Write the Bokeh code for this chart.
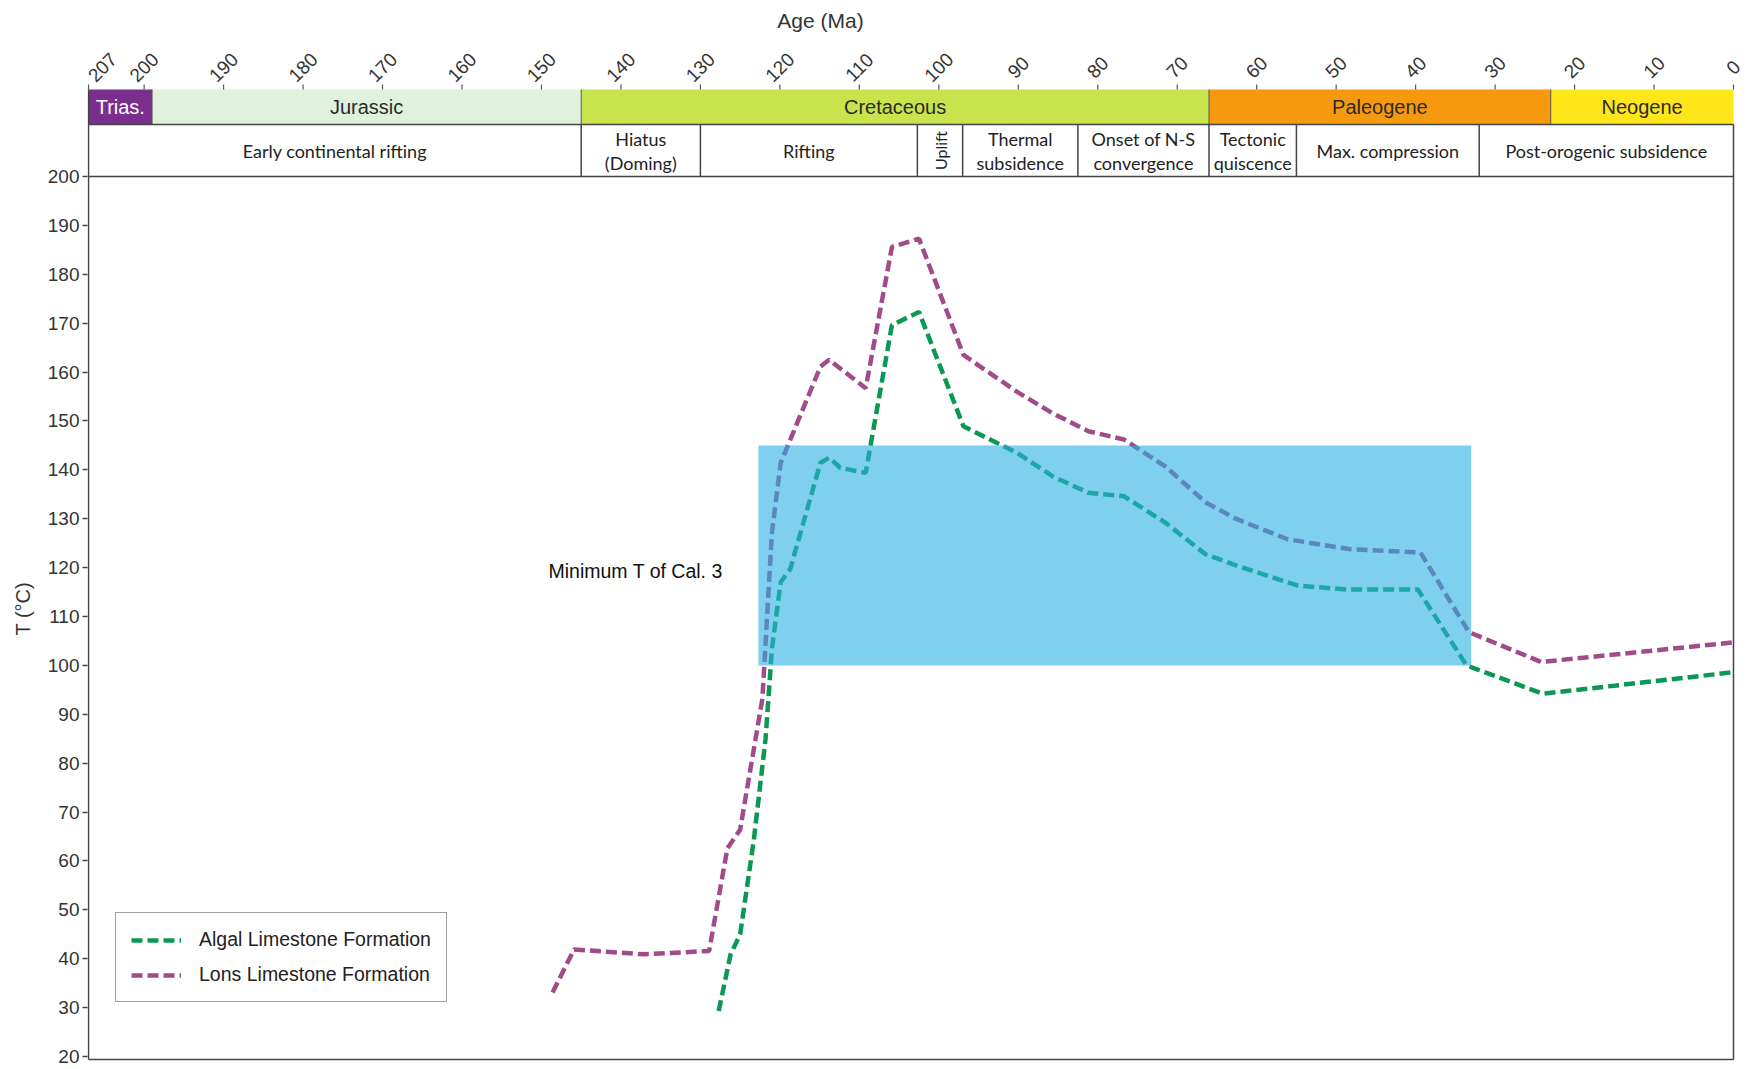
import math
from bokeh.plotting import figure
from bokeh.models import Range1d, FixedTicker, Legend, LegendItem, Title
from bokeh.core.properties import value
from bokeh.embed import file_html
from bokeh.resources import INLINE

# ---------------- data ----------------
lons_age = [148.6, 145.9, 137.1, 128.9, 126.6, 125.0, 122.2, 121.0, 119.9, 114.9, 113.8,
            109.2, 105.9, 102.5, 96.9, 90.2, 85.7, 81.2, 76.7, 71.5, 66.4, 62.5, 56.1,
            48.4, 39.4, 33.3, 24.2, 0.0]
lons_temp = [33.1, 41.9, 40.9, 41.6, 62.6, 66.4, 93.2, 127.2, 141.4, 161.1, 162.5,
             156.7, 185.6, 187.3, 163.5, 156.0, 151.6, 147.9, 146.2, 140.7, 133.3, 129.9, 125.8,
             123.8, 123.1, 106.8, 100.7, 104.7]

algal_age = [127.7, 126.2, 125.0, 123.3, 121.8, 121.0, 119.9, 118.7, 114.9, 113.8, 112.4,
             109.2, 105.9, 102.5, 96.9, 90.2, 85.7, 81.2, 76.7, 71.5, 66.4, 62.5, 54.8,
             48.4, 39.7, 33.6, 24.0, 0.0]
algal_temp = [29.3, 40.9, 45.0, 64.0, 85.0, 103.4, 117.0, 119.7, 141.4, 142.5, 140.4,
              139.4, 169.6, 172.3, 148.9, 143.5, 138.7, 135.3, 134.6, 129.2, 122.7, 120.4, 116.3,
              115.5, 115.5, 100.0, 94.2, 98.6]

cal3_age = [122.7, 33.0]     # age span of the calibration box (Ma)
cal3_temp = [100.0, 145.0]   # temperature span (°C)
cal3_label = "Minimum T of Cal. 3"

period_names = ["Trias.", "Jurassic", "Cretaceous", "Paleogene", "Neogene"]
period_start = [207, 199, 145, 66, 23]
period_end = [199, 145, 66, 23, 0]
period_colors = ["#7a2e8e", "#e0f2de", "#c8e34c", "#f7990e", "#ffe61a"]
period_text_colors = ["#ffffff", "#2b2b2b", "#2b2b2b", "#2b2b2b", "#2b2b2b"]

process_names = ["Early continental rifting", "Hiatus\n(Doming)", "Rifting", "Uplift",
                 "Thermal\nsubsidence", "Onset of N-S\nconvergence", "Tectonic\nquiscence",
                 "Max. compression", "Post-orogenic subsidence"]
process_start = [207, 145, 130, 102.7, 97, 82.5, 66, 55, 32]
process_end = [145, 130, 102.7, 97, 82.5, 66, 55, 32, 0]

age_ticks = [207, 200, 190, 180, 170, 160, 150, 140, 130, 120, 110, 100,
             90, 80, 70, 60, 50, 40, 30, 20, 10, 0]
temp_ticks = [20, 30, 40, 50, 60, 70, 80, 90, 100, 110, 120, 130, 140, 150,
              160, 170, 180, 190, 200]

# ---------------- layout (page pixels) ----------------
W, H = 1748, 1068
ML, MT, MB = 87, 0, 4
FRAME_W, FRAME_H = W - ML, H - MT - MB
PX_MA = (1733 - 88) / 207.0
X_START = 207 + 1.0 / PX_MA
X_END = X_START - FRAME_W / PX_MA
PX_T = (1056 - 176) / 180.0
Y_TOP = 200 + (176 - MT) / PX_T
Y_BOT = Y_TOP - FRAME_H / PX_T


def ty(page_y):
    return Y_TOP - (page_y - MT) / PX_T


def tx(page_x):
    return X_START - (page_x - ML) / PX_MA


GREEN = "#0b9850"
PURPLE = "#a24b89"
LINE = "#444444"
ARIAL = value("Liberation Sans")
CAL = value("Lato")

p = figure(width=W, height=H, output_backend="svg", toolbar_location=None,
           x_range=Range1d(X_START, X_END), y_range=Range1d(Y_BOT, Y_TOP),
           x_axis_location=None, y_axis_location="left",
           min_border_left=ML, min_border_right=0, min_border_top=MT, min_border_bottom=MB)
p.title.visible = False
p.outline_line_color = None
p.xgrid.visible = False
p.ygrid.visible = False
p.background_fill_color = "white"
p.border_fill_color = "white"

ya = p.yaxis[0]
ya.ticker = FixedTicker(ticks=temp_ticks)
ya.bounds = (temp_ticks[0], temp_ticks[-1])
ya.axis_line_color = None
ya.major_tick_out = 5
ya.major_tick_in = 0
ya.major_tick_line_color = LINE
ya.major_tick_line_width = 1.3
ya.minor_tick_line_color = None
ya.major_label_standoff = 3
ya.major_label_text_font = "Liberation Sans"
ya.major_label_text_font_size = "19px"
ya.major_label_text_color = "#333333"

# y-axis title, positioned from the bottom of the frame
p.add_layout(Title(text="T (°C)", align="left", vertical_align="middle",
                   offset=(H - MB) - 608 - 27, standoff=20,
                   text_font="Liberation Sans", text_font_size="20px",
                   text_font_style="normal", text_color="#333333"), "left")

# ---- geologic time header ----
ROW1_TOP, ROW1_BOT, ROW2_BOT = ty(89), ty(124), temp_ticks[-1]
p.quad(left=period_start, right=period_end, bottom=ROW1_BOT, top=ROW1_TOP,
       fill_color=period_colors, line_color=None)
p.segment(x0=period_start[1:], x1=period_start[1:], y0=ROW1_BOT, y1=ROW1_TOP,
          line_color="#555555", line_width=1)
p.text(x=[(a + b) / 2 for a, b in zip(period_start, period_end)], y=ty(106.5),
       text=period_names, text_color=period_text_colors, text_font=ARIAL,
       text_font_size="20px", text_align="center", text_baseline="middle")

p.segment(x0=process_start[1:], x1=process_start[1:], y0=ROW2_BOT, y1=ROW1_BOT,
          line_color=LINE, line_width=1.5)
for name, a, b in zip(process_names, process_start, process_end):
    xc = (a + b) / 2
    if name == "Uplift":
        p.text(x=[xc], y=[ty(150)], text=[name], text_font=CAL, text_font_size="16px",
               text_color="#222222", angle=math.pi / 2, text_align="center",
               text_baseline="middle")
        continue
    lines = name.split("\n")
    ys = [ty(150)] if len(lines) == 1 else [ty(138), ty(162)]
    p.text(x=[xc] * len(lines), y=ys, text=lines, text_font=CAL, text_font_size="18px",
           text_color="#222222", text_align="center", text_baseline="middle")

# top age scale: tick marks + rotated labels + title
p.segment(x0=age_ticks, x1=age_ticks, y0=ty(84), y1=ROW1_TOP, line_color="#555555",
          line_width=1.2)
label_x = [min(t, tx(102)) for t in age_ticks]   # keep the first label inside the canvas
p.text(x=label_x, y=ty(67), text=[str(t) for t in age_ticks],
       angle=math.pi / 4, text_font=ARIAL, text_font_size="19px", text_color="#333333",
       text_align="center", text_baseline="middle")
p.text(x=[tx(820)], y=[ty(20)], text=["Age (Ma)"], text_font=ARIAL, text_font_size="21px",
       text_color="#333333", text_align="center", text_baseline="middle")

# frame lines
left_x, right_x = age_ticks[0], age_ticks[-1]
BOT_LINE = ty(1059)
p.segment(x0=[left_x, left_x, left_x, left_x, right_x],
          x1=[right_x, right_x, right_x, left_x, right_x],
          y0=[ROW1_BOT, ROW2_BOT, BOT_LINE, BOT_LINE, BOT_LINE],
          y1=[ROW1_BOT, ROW2_BOT, BOT_LINE, ROW1_TOP, ROW1_BOT],
          line_color=LINE, line_width=1.5)

# ---- data lines ----
r_lons = p.line(lons_age, lons_temp, line_color=PURPLE, line_width=4.5, line_dash="11 5")
r_algal = p.line(algal_age, algal_temp, line_color=GREEN, line_width=4.5, line_dash="11 5")

# calibration box (translucent, on top of the lines)
p.quad(left=[cal3_age[0]], right=[cal3_age[1]], bottom=[cal3_temp[0]], top=[cal3_temp[1]],
       fill_color="#2aafe3", fill_alpha=0.6, line_color=None)
p.text(x=[tx(548)], y=[ty(570)], text=[cal3_label], text_font=ARIAL, text_font_size="19.5px",
       text_color="#111111", text_align="left", text_baseline="middle")

legend = Legend(items=[LegendItem(label="Algal Limestone Formation", renderers=[r_algal]),
                       LegendItem(label="Lons Limestone Formation", renderers=[r_lons])],
                location=(115 - ML, (H - MB) - 1002), orientation="vertical", margin=0,
                padding=15, spacing=12, glyph_width=50, glyph_height=20, label_height=20,
                label_standoff=18, label_text_font="Liberation Sans",
                label_text_font_size="19.5px", label_text_color="#222222",
                border_line_color=LINE, border_line_width=1.3,
                background_fill_color="white", background_fill_alpha=1.0)
p.add_layout(legend)

open("out.html", "w").write(file_html(p, INLINE))
